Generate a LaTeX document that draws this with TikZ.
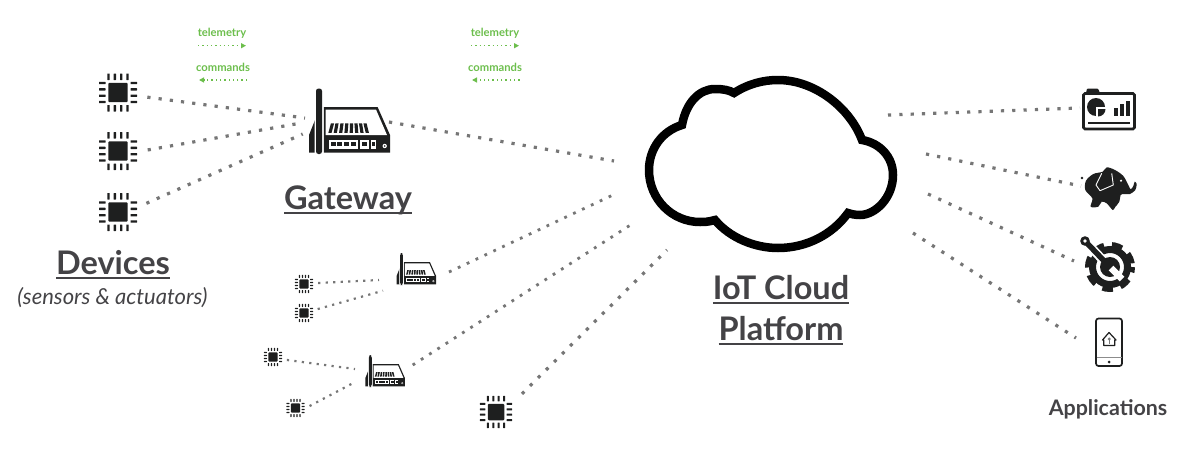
\documentclass[tikz,border=0pt]{standalone}
\usepackage{fontspec}
\setmainfont{Lato}
\usetikzlibrary{arrows.meta}

\definecolor{iconblack}{HTML}{1E1F1F}
\definecolor{labelgray}{HTML}{444346}
\definecolor{dotgray}{HTML}{767676}
\definecolor{legendgreen}{HTML}{6CBE4C}

% underline with a rule of its own
\newcommand{\ulabel}[2]{\setbox0\hbox{#2}\rlap{\rule[-4.5pt]{\wd0}{#1}}\box0}

\tikzset{
	links/.style={draw=dotgray, line width=3.2pt, dash pattern=on 3.2pt off 8.1pt},
	linksmid/.style={draw=dotgray, line width=2.8pt, dash pattern=on 2.8pt off 7pt},
	linksmall/.style={draw=dotgray, line width=2.2pt, dash pattern=on 2.2pt off 5.3pt},
	legendline/.style={draw=legendgreen, line width=1.3pt, dash pattern=on 1.3pt off 3pt, -{Triangle[length=5pt,width=5pt]}},
	legendtext/.style={text=legendgreen, font=\bfseries\fontsize{11.2}{13}\selectfont},
	biglabel/.style={text=labelgray, font=\bfseries\fontsize{32.5}{38}\selectfont},
	chipnode/.style={circle, minimum size=#1, inner sep=0pt},
	chip/.pic={
		\fill[iconblack, rounded corners=1pt] (-9.7,-9.7) rectangle (9.7,9.7);
		\foreach \r in {0,90,180,270}
			\foreach \p in {-9.5,-3.2,3.2,9.5}
				\fill[iconblack, rotate=\r, rounded corners=.4pt] (\p-1.2,-19) rectangle (\p+1.2,-12.5);
	},
	router/.pic={
		% back side
		\fill[iconblack] (-4,-34)--(-10,-19)--(-10,-1.3)--(-4,-1.3)--cycle;
		% case
		\fill[iconblack] (4.7,-47)--(58.6,-47)--(71,-19)--(71,-1.3)--(4.7,-1.3)--cycle;
		\fill[white] (6.7,-44.4)--(57,-44.4)--(68,-19)--(6.7,-19)--cycle;
		% vents
		\foreach \b/\t in {11/13.5,16.3/18,21.7/23,27/27.8,32.3/32.5,37.7/37,43/41.5,48.3/46}
			\fill[iconblack] (\b-1.6,-21.2)--(\t-1.6,-30.7)--(\t+1.6,-30.7)--(\b+1.6,-21.2)--cycle;
		% ports
		\fill[white] (9.7,-14.5) rectangle (39,-5.2);
		\fill[white] (40.7,-14.5) rectangle (49.7,-5.2);
		\fill[white] (51.7,-14.5) rectangle (57.3,-5.2);
		\foreach \x in {11.5,18.2,24.9,31.6,42.7}
			\fill[iconblack] (\x,-12.5) rectangle (\x+5.2,-8.5);
		\fill[iconblack] (53,-12) rectangle (56,-8);
		\fill[white] (65.7,-8) circle (2.2);
		\fill[iconblack] (65.7,-8) circle (.9);
		% antenna
		\fill[white, rounded corners=2pt] (-4.5,-66.5) rectangle (4.5,1);
		\fill[iconblack, rounded corners=2.5pt] (-3,-65.5) rectangle (3,0);
	},
}

\begin{document}
\begin{tikzpicture}[x=1pt,y=-1pt]
		\useasboundingbox (0,0) rectangle (1200,453);

		% devices
		\node[chipnode=59pt] (chipA) at (118,92.5) {};
		\node[chipnode=59pt] (chipB) at (118,151) {};
		\node[chipnode=59pt] (chipC) at (118,212) {};
		\pic at (chipA) {chip};
		\pic at (chipB) {chip};
		\pic at (chipC) {chip};

		% small devices
		\node[chipnode=28pt] (chipD) at (304,284) {};
		\node[chipnode=28pt] (chipE) at (304,313) {};
		\node[chipnode=28pt] (chipF) at (273,357) {};
		\node[chipnode=28pt] (chipG) at (295.5,408) {};
		\pic[scale=.48] at (chipD) {chip};
		\pic[scale=.48] at (chipE) {chip};
		\pic[scale=.48] at (chipF) {chip};
		\pic[scale=.48] at (chipG) {chip};

		% device without gateway
		\node[chipnode=63pt] (chipH) at (496,412) {};
		\pic[scale=.85] at (chipH) {chip};

		% gateways
		\pic at (319,154) {router};
		\pic[scale=.486] at (401.5,285) {router};
		\pic[scale=.486] at (370.3,387) {router};

		%free ends at the gateways
		\coordinate (gwA) at (305,118);
		\coordinate (gwB) at (303,122.7);
		\coordinate (gwC) at (302.7,134);
		\coordinate (gwOut) at (389,122);
		\coordinate (hubA) at (379,280);
		\coordinate (hubB) at (383,290.7);
		\coordinate (hubAout) at (449,272);
		\coordinate (hubC) at (355,369);
		\coordinate (hubD) at (355.7,381.7);
		\coordinate (hubCout) at (412.7,365);

		%free ends at the cloud
		\coordinate (cloudA) at (614,161);
		\coordinate (cloudB) at (615,194);
		\coordinate (cloudC) at (632,224);
		\coordinate (cloudD) at (667,250);
		\coordinate (cloudE) at (888,115);
		\coordinate (cloudF) at (926,154);
		\coordinate (cloudG) at (928,194);
		\coordinate (cloudH) at (913,233);

		%free ends at the applications
		\coordinate (appA) at (1080,108);
		\coordinate (appB) at (1081,186);
		\coordinate (appC) at (1074,261);
		\coordinate (appD) at (1076,338);

		%rays
		\draw[links] (chipA.-9.5) -- (gwA);
		\draw[links] (chipB.2) -- (gwB);
		\draw[links] (chipC.17) -- (gwC);
		\draw[links] (gwOut) -- (cloudA);
		\draw[linksmid] (hubAout) -- (cloudB);
		\draw[linksmid] (hubCout) -- (cloudC);
		\draw[links] (chipH.35) -- (cloudD);
		\draw[linksmall] (chipD.4) -- (hubA);
		\draw[linksmall] (chipE.16) -- (hubB);
		\draw[linksmall] (chipF.-12) -- (hubC);
		\draw[linksmall] (chipG.8) -- (hubD);
		\draw[links] (cloudE) -- (appA);
		\draw[links] (cloudF) -- (appB);
		\draw[links] (cloudG) -- (appC);
		\draw[links] (cloudH) -- (appD);

		% cloud
		\draw[black, line width=8.5pt, miter limit=6] (734,93)
			.. controls (748,84) and (763,80) .. (778,80)
			.. controls (815,80) and (850,108) .. (862,140)
			.. controls (880,143) and (893,157) .. (893,175)
			.. controls (893,198) and (875,215) .. (860,215)
			.. controls (855,215) and (851,214) .. (848,213)
			.. controls (832,235) and (806,248) .. (778,248)
			.. controls (755,248) and (730,238) .. (715,220)
			.. controls (708,222) and (704,222) .. (700,222)
			.. controls (672,222) and (649,199) .. (649,170)
			.. controls (649,149) and (662,131) .. (682,125)
			.. controls (686,103) and (699,89) .. (715,89)
			.. controls (723,89) and (729,90) .. cycle;

		% dashboard
		\draw[iconblack, line width=2.6pt, rounded corners=1.5pt, fill=white] (1083.5,93.5) rectangle (1134.5,129);
		\fill[iconblack, rounded corners=1pt] (1086,93) -- (1087,88.5) -- (1098,88.5) -- (1100,93) -- cycle;
		\fill[iconblack] (1096,107) circle (9);
		\fill[white] (1096,107) rectangle (1106,117);
		\fill[iconblack] (1098,109) -- (1105.5,109) arc[start angle=0, end angle=90, radius=7.5] -- cycle;
		\fill[iconblack] (1114,107.7) rectangle (1118,116);
		\fill[iconblack] (1120,104.3) rectangle (1124,116);
		\fill[iconblack] (1125.7,100.7) rectangle (1130,116);
		\fill[iconblack] (1088.3,121.7) rectangle (1130,123.7);

		% elephant
		\fill[iconblack] plot[smooth cycle, tension=.5] coordinates {
			(1106.7,167.3) (1115,170) (1123.3,176) (1128.3,185) (1130.7,189.3)
			(1133.3,186) (1134.7,181.7) (1136.7,184) (1135.3,190) (1130,194)
			(1124,194) (1120.7,195) (1119.3,201.7) (1115,207.3) (1112.7,210)
			(1106.7,203.3) (1101.7,201.7) (1098.3,206.7) (1090.7,206.7) (1092.3,198.3)
			(1085.3,190) (1086,180.7) (1093.3,174) (1102.7,171.7)};
		\fill[iconblack] (1082,178) circle (1.3);
		\draw[white, line width=.9pt, line join=round] (1101.7,173.3) -- (1096,185) -- (1100,190.7) -- (1113.3,185) -- (1111.7,173.3);
		\fill[white] (1121,180.7) circle (1.2);

		% gear and wrench
		\draw[iconblack, line width=7pt] (1110,267) circle (17.5);
		\draw[iconblack, line width=6pt, dash pattern=on 10.5pt off 7.95pt, dash phase=5.25pt] (1110,267) circle (22);
		\draw[white, line width=9pt] (1085,241) -- (1101,258);
		\draw[iconblack, line width=5.5pt] (1085,241) -- (1107,264);
		\fill[iconblack] (1085,241) circle (4.8);
		\fill[white] (1085,241) circle (1.8);
		\fill[iconblack] (1110,267) circle (10);
		\draw[white, line width=6.5pt] (1111,268) -- (1122,279);

		% phone
		\draw[iconblack, line width=1.7pt, rounded corners=2.5pt, fill=white] (1096,318.5) rectangle (1122,366);
		\draw[black!45, line width=1.2pt] (1096.5,357.7) -- (1121.5,357.7);
		\fill[iconblack] (1109,362) circle (1.5);
		\draw[iconblack, line width=1.2pt, line join=round] (1102.5,340) -- (1109,332.5) -- (1116,340) -- (1114.7,340) -- (1114.7,345.5) -- (1103.7,345.5) -- (1103.7,340) -- cycle;
		\fill[iconblack!60] (1109.2,339) circle (1.6);
		\fill[iconblack!60] (1108.5,340) rectangle (1110,343.5);

		%legend
		\node[legendtext] (telA) at (222,33.5) {telemetry};
		\node[legendtext] (comA) at (223,67.5) {commands};
		\node[legendtext] (telB) at (495,33.5) {telemetry};
		\node[legendtext] (comB) at (495,67.5) {commands};
		\coordinate (telAa) at (198,45.7);
		\coordinate (telAb) at (246,45.7);
		\coordinate (comAa) at (247,80);
		\coordinate (comAb) at (199,80);
		\coordinate (telBa) at (471,45.7);
		\coordinate (telBb) at (519,45.7);
		\coordinate (comBa) at (519.5,80);
		\coordinate (comBb) at (472,80);
		\draw[legendline] (telAa) -- (telAb);
		\draw[legendline] (comAa) -- (comAb);
		\draw[legendline] (telBa) -- (telBb);
		\draw[legendline] (comBa) -- (comBb);

		%labels
		\node[biglabel, anchor=base] (gwLabel) at (348,209) {\ulabel{2pt}{Gateway}};
		\node[biglabel, anchor=base] (devLabel) at (113,274.5) {\ulabel{2pt}{Devices}};
		\node[text=labelgray, anchor=base, font=\itshape\fontsize{22}{26}\selectfont] (senseLabel) at (112.5,304) {(sensors \& actuators)};
		\node[biglabel, anchor=base] (cloudLabelA) at (781,299) {\ulabel{2pt}{IoT Cloud}};
		\node[biglabel, anchor=base] (cloudLabelB) at (781,340) {\ulabel{2pt}{Platform}};
		\node[text=labelgray, anchor=base, font=\bfseries\fontsize{21.4}{25}\selectfont] (appLabel) at (1108,415) {Applications};
\end{tikzpicture}
\end{document}
